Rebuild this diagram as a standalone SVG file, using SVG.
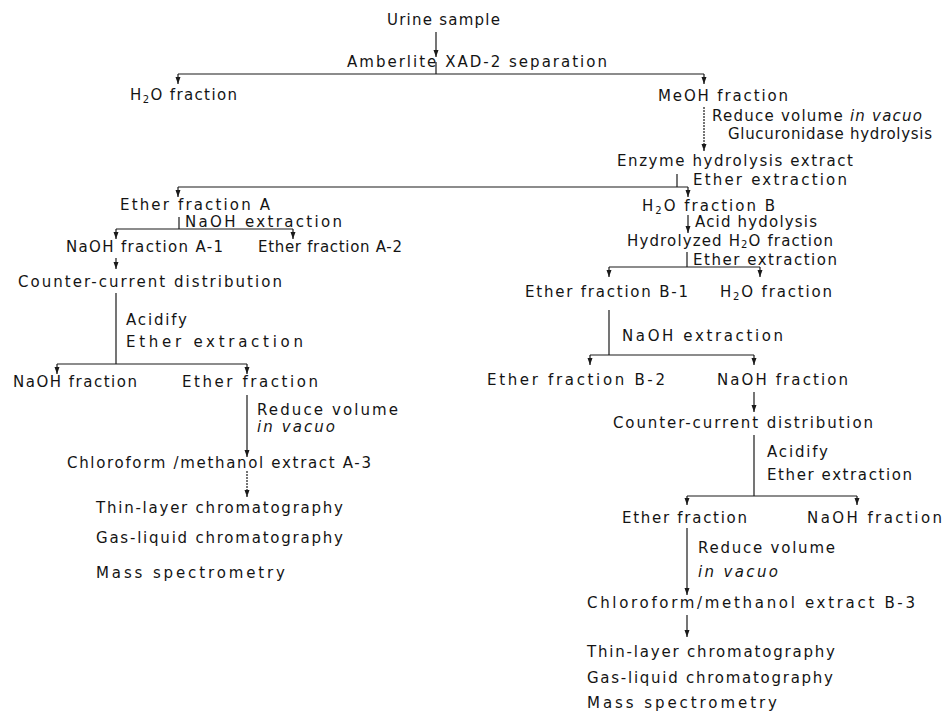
<svg xmlns="http://www.w3.org/2000/svg" width="944" height="712" viewBox="0 0 944 712">
<style>
text{font-family:"DejaVu Sans","Liberation Sans",sans-serif;font-size:15px;fill:#141414}
.c line,.c path{stroke:#1a1a1a;stroke-width:1.2;fill:none}
.d{stroke-dasharray:2 1}
.it{font-style:italic}
.sub{font-size:10px}
</style>
<defs>
<marker id="ah" markerUnits="userSpaceOnUse" markerWidth="8" markerHeight="9" refX="3" refY="8" orient="0" viewBox="0 0 6 9">
<path d="M0.5,1 L3,8 L5.5,1 Z" fill="#1a1a1a"/>
</marker>
</defs>
<rect width="944" height="712" fill="#fff"/>
<g class="c" id="connectors">
<line x1="436" y1="32" x2="436" y2="57" marker-end="url(#ah)"/>
<line x1="436" y1="62" x2="436" y2="74"/>
<line x1="178" y1="74" x2="704" y2="74"/>
<line x1="178" y1="74" x2="178" y2="84" marker-end="url(#ah)"/>
<line x1="704" y1="74" x2="704" y2="84" marker-end="url(#ah)"/>
<line class="d" x1="704" y1="107" x2="704" y2="151" marker-end="url(#ah)"/>
<line x1="677" y1="174" x2="677" y2="187"/>
<line x1="178" y1="187" x2="688" y2="187"/>
<line x1="178" y1="187" x2="178" y2="197" marker-end="url(#ah)"/>
<line x1="688" y1="187" x2="688" y2="197" marker-end="url(#ah)"/>
<line x1="179" y1="217" x2="179" y2="229"/>
<line x1="116" y1="229" x2="293" y2="229"/>
<line x1="116" y1="229" x2="116" y2="239" marker-end="url(#ah)"/>
<line x1="293" y1="229" x2="293" y2="239" marker-end="url(#ah)"/>
<line x1="116" y1="258" x2="116" y2="269" marker-end="url(#ah)"/>
<line x1="116" y1="293" x2="116" y2="364"/>
<line x1="57" y1="364" x2="247" y2="364"/>
<line x1="57" y1="364" x2="57" y2="374" marker-end="url(#ah)"/>
<line x1="247" y1="364" x2="247" y2="374" marker-end="url(#ah)"/>
<line x1="247" y1="395" x2="247" y2="457" marker-end="url(#ah)"/>
<line class="d" x1="247" y1="471" x2="247" y2="497" marker-end="url(#ah)"/>
<line x1="688" y1="215" x2="688" y2="233" marker-end="url(#ah)"/>
<line x1="687" y1="252" x2="687" y2="267"/>
<line x1="609" y1="267" x2="760" y2="267"/>
<line x1="609" y1="267" x2="609" y2="277" marker-end="url(#ah)"/>
<line x1="760" y1="267" x2="760" y2="277" marker-end="url(#ah)"/>
<line x1="609" y1="310" x2="609" y2="355"/>
<line x1="590" y1="355" x2="754" y2="355"/>
<line x1="590" y1="355" x2="590" y2="365" marker-end="url(#ah)"/>
<line x1="754" y1="355" x2="754" y2="365" marker-end="url(#ah)"/>
<line x1="754" y1="392" x2="754" y2="412" marker-end="url(#ah)"/>
<line x1="754" y1="435" x2="754" y2="496"/>
<line x1="687" y1="496" x2="857" y2="496"/>
<line x1="687" y1="496" x2="687" y2="505" marker-end="url(#ah)"/>
<line x1="857" y1="496" x2="857" y2="505" marker-end="url(#ah)"/>
<line x1="687" y1="528" x2="687" y2="595" marker-end="url(#ah)"/>
<line x1="687" y1="615" x2="687" y2="637" marker-end="url(#ah)"/>
</g>
<g id="urine"><text x="387" y="25" textLength="113" lengthAdjust="spacing">Urine sample</text></g>
<g id="amberlite"><text x="347" y="67" textLength="260" lengthAdjust="spacing">Amberlite XAD-2 separation</text></g>
<g id="h2o-1"><text x="130" y="100" textLength="107" lengthAdjust="spacing">H<tspan class="sub" dy="3">2</tspan><tspan dy="-3">O fraction</tspan></text></g>
<g id="meoh"><text x="658" y="101" textLength="130" lengthAdjust="spacing">MeOH fraction</text></g>
<g id="reduce-1"><text x="712" y="121" textLength="210" lengthAdjust="spacing">Reduce volume <tspan class="it">in vacuo</tspan></text></g>
<g id="glucuronidase"><text x="728" y="139" textLength="204" lengthAdjust="spacing">Glucuronidase hydrolysis</text></g>
<g id="enzyme"><text x="617" y="166" textLength="236" lengthAdjust="spacing">Enzyme hydrolysis extract</text></g>
<g id="ether-ext-1"><text x="693" y="185" textLength="154" lengthAdjust="spacing">Ether extraction</text></g>
<g id="ether-a"><text x="120" y="210" textLength="150" lengthAdjust="spacing">Ether fraction A</text></g>
<g id="naoh-ext-a"><text x="185" y="227" textLength="157" lengthAdjust="spacing">NaOH extraction</text></g>
<g id="naoh-a1"><text x="66" y="252" textLength="157" lengthAdjust="spacing">NaOH fraction A-1</text></g>
<g id="ether-a2"><text x="258" y="252" textLength="144" lengthAdjust="spacing">Ether fraction A-2</text></g>
<g id="ccd-a"><text x="18" y="287" textLength="264" lengthAdjust="spacing">Counter-current distribution</text></g>
<g id="acidify-a"><text x="126" y="325" textLength="61" lengthAdjust="spacing">Acidify</text><text x="126" y="347" textLength="177" lengthAdjust="spacing">Ether extraction</text></g>
<g id="naoh-frac-a"><text x="13" y="387" textLength="124" lengthAdjust="spacing">NaOH fraction</text></g>
<g id="ether-frac-a"><text x="182" y="387" textLength="136" lengthAdjust="spacing">Ether fraction</text></g>
<g id="reduce-a"><text x="257" y="415" textLength="141" lengthAdjust="spacing">Reduce volume</text><text class="it" x="257" y="432" textLength="78" lengthAdjust="spacing">in vacuo</text></g>
<g id="chloro-a3"><text x="67" y="468" textLength="304" lengthAdjust="spacing">Chloroform /methanol extract A-3</text></g>
<g id="analysis-a"><text x="96" y="513" textLength="247" lengthAdjust="spacing">Thin-layer chromatography</text><text x="96" y="543" textLength="247" lengthAdjust="spacing">Gas-liquid chromatography</text><text x="96" y="578" textLength="189" lengthAdjust="spacing">Mass spectrometry</text></g>
<g id="h2o-b"><text x="642" y="211" textLength="133" lengthAdjust="spacing">H<tspan class="sub" dy="3">2</tspan><tspan dy="-3">O fraction B</tspan></text></g>
<g id="acid-hyd"><text x="695" y="227" textLength="122" lengthAdjust="spacing">Acid hydolysis</text></g>
<g id="hydrolyzed"><text x="627" y="246" textLength="206" lengthAdjust="spacing">Hydrolyzed H<tspan class="sub" dy="2">2</tspan><tspan dy="-2">O fraction</tspan></text></g>
<g id="ether-ext-b"><text x="693" y="265" textLength="144" lengthAdjust="spacing">Ether extraction</text></g>
<g id="ether-b1"><text x="525" y="297" textLength="163" lengthAdjust="spacing">Ether fraction B-1</text></g>
<g id="h2o-b2"><text x="720" y="297" textLength="112" lengthAdjust="spacing">H<tspan class="sub" dy="3">2</tspan><tspan dy="-3">O fraction</tspan></text></g>
<g id="naoh-ext-b"><text x="622" y="341" textLength="161" lengthAdjust="spacing">NaOH extraction</text></g>
<g id="ether-b2"><text x="487" y="385" textLength="178" lengthAdjust="spacing">Ether fraction B-2</text></g>
<g id="naoh-frac-b"><text x="717" y="385" textLength="131" lengthAdjust="spacing">NaOH fraction</text></g>
<g id="ccd-b"><text x="613" y="428" textLength="260" lengthAdjust="spacing">Counter-current distribution</text></g>
<g id="acidify-b"><text x="767" y="457" textLength="61" lengthAdjust="spacing">Acidify</text><text x="767" y="480" textLength="145" lengthAdjust="spacing">Ether extraction</text></g>
<g id="ether-frac-b"><text x="622" y="523" textLength="125" lengthAdjust="spacing">Ether fraction</text></g>
<g id="naoh-frac-b3"><text x="807" y="523" textLength="135" lengthAdjust="spacing">NaOH fraction</text></g>
<g id="reduce-b"><text x="698" y="553" textLength="137" lengthAdjust="spacing">Reduce volume</text><text class="it" x="698" y="577" textLength="80" lengthAdjust="spacing">in vacuo</text></g>
<g id="chloro-b3"><text x="587" y="608" textLength="328" lengthAdjust="spacing">Chloroform/methanol extract B-3</text></g>
<g id="analysis-b"><text x="587" y="657" textLength="248" lengthAdjust="spacing">Thin-layer chromatography</text><text x="587" y="683" textLength="246" lengthAdjust="spacing">Gas-liquid chromatography</text><text x="587" y="708" textLength="190" lengthAdjust="spacing">Mass spectrometry</text></g>
</svg>
